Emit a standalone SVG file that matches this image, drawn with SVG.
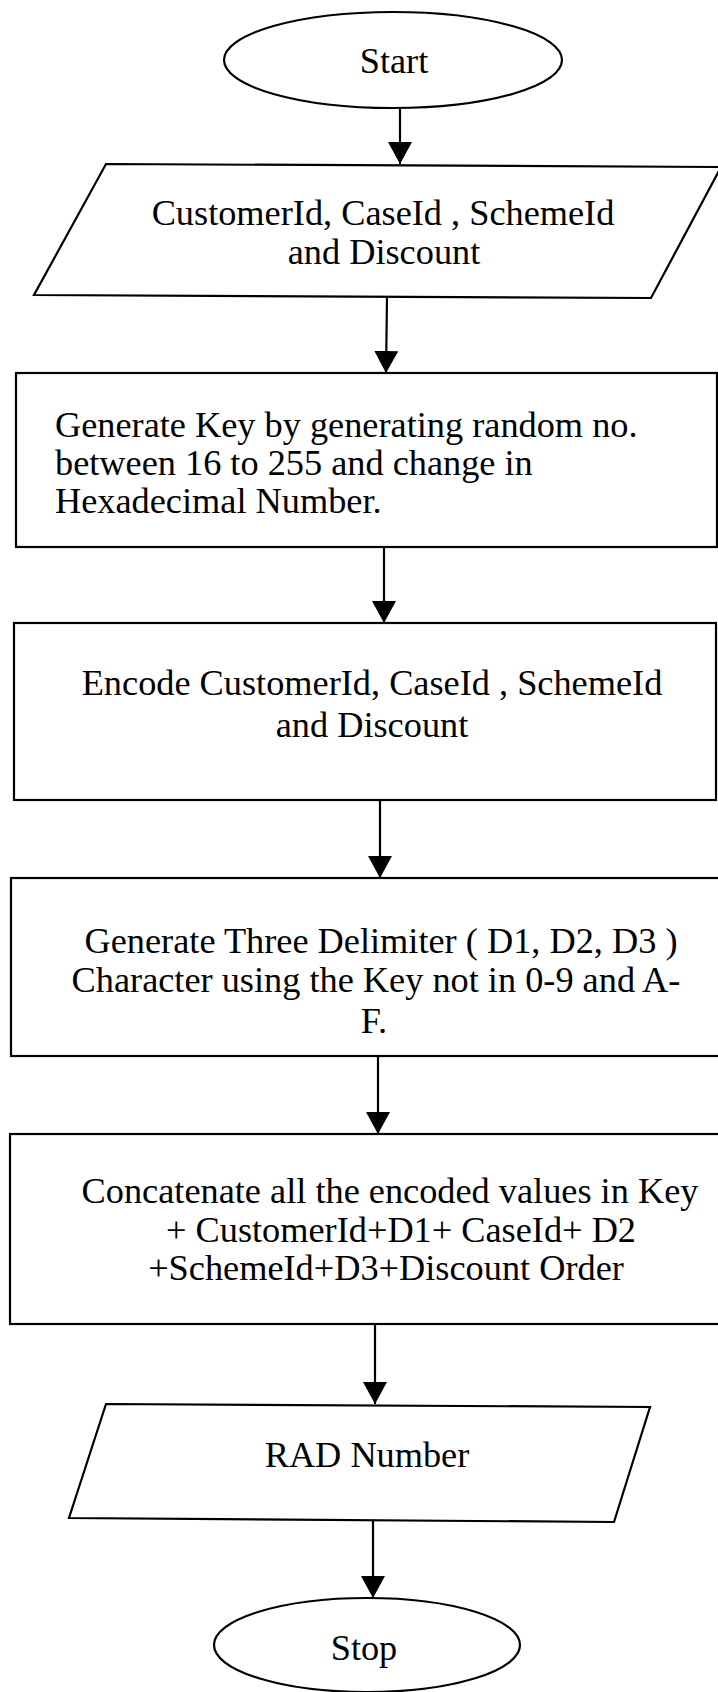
<svg xmlns="http://www.w3.org/2000/svg" width="718" height="1692" viewBox="0 0 718 1692">
<defs>
<style>
.s{fill:#fff;stroke:#000;stroke-width:2.2}
.t{font-family:"Liberation Serif","Times New Roman",serif;font-size:36.3px;fill:#000}
.c{text-anchor:middle}
.e{stroke:#000;stroke-width:2.2;fill:none}
</style>
<marker id="ah" markerUnits="userSpaceOnUse" markerWidth="26" markerHeight="24" viewBox="0 0 26 24" refX="22" refY="12" orient="auto">
<path d="M0,0 L22,12 L0,24 Z" fill="#000"/>
</marker>
</defs>
<rect width="718" height="1692" fill="#fff"/>
<g id="connectors">
<line class="e" x1="400" y1="108" x2="400" y2="164" marker-end="url(#ah)"/>
<line class="e" x1="387" y1="297" x2="386" y2="373" marker-end="url(#ah)"/>
<line class="e" x1="384" y1="547" x2="384" y2="623" marker-end="url(#ah)"/>
<line class="e" x1="380" y1="800" x2="380" y2="878" marker-end="url(#ah)"/>
<line class="e" x1="378" y1="1056" x2="378" y2="1134" marker-end="url(#ah)"/>
<line class="e" x1="375" y1="1324" x2="375" y2="1404" marker-end="url(#ah)"/>
<line class="e" x1="373" y1="1521" x2="373" y2="1598" marker-end="url(#ah)"/>
</g>
<g id="start">
<ellipse class="s" cx="393" cy="60" rx="169" ry="48"/>
<text class="t c" x="394" y="73">Start</text>
</g>
<g id="input">
<polygon class="s" points="106,164 721,167 651,298 34,295"/>
<text class="t c" x="383" y="225">CustomerId, CaseId , SchemeId</text>
<text class="t c" x="384" y="264">and Discount</text>
</g>
<g id="genkey">
<rect class="s" x="16" y="373" width="701" height="174"/>
<text class="t" x="55" y="437">Generate Key by generating random no.</text>
<text class="t" x="55" y="475">between 16 to 255 and change in</text>
<text class="t" x="55" y="513">Hexadecimal Number.</text>
</g>
<g id="encode">
<rect class="s" x="14" y="623" width="702" height="177"/>
<text class="t c" x="372" y="695">Encode CustomerId, CaseId , SchemeId</text>
<text class="t c" x="372" y="737">and Discount</text>
</g>
<g id="delim">
<rect class="s" x="11" y="878" width="712" height="178"/>
<text class="t c" x="381" y="953">Generate Three Delimiter ( D1, D2, D3 )</text>
<text class="t c" x="376" y="992">Character using the Key not in 0-9 and A-</text>
<text class="t c" x="374" y="1033">F.</text>
</g>
<g id="concat">
<rect class="s" x="10" y="1134" width="714" height="190"/>
<text class="t c" x="390" y="1203">Concatenate all the encoded values in Key</text>
<text class="t c" x="401" y="1242">+ CustomerId+D1+ CaseId+ D2</text>
<text class="t c" x="386" y="1280">+SchemeId+D3+Discount Order</text>
</g>
<g id="rad">
<polygon class="s" points="106,1404 650,1407 614,1522 69,1518"/>
<text class="t c" x="367" y="1467">RAD Number</text>
</g>
<g id="stop">
<ellipse class="s" cx="367" cy="1645" rx="153" ry="47"/>
<text class="t c" x="364" y="1660">Stop</text>
</g>
</svg>
